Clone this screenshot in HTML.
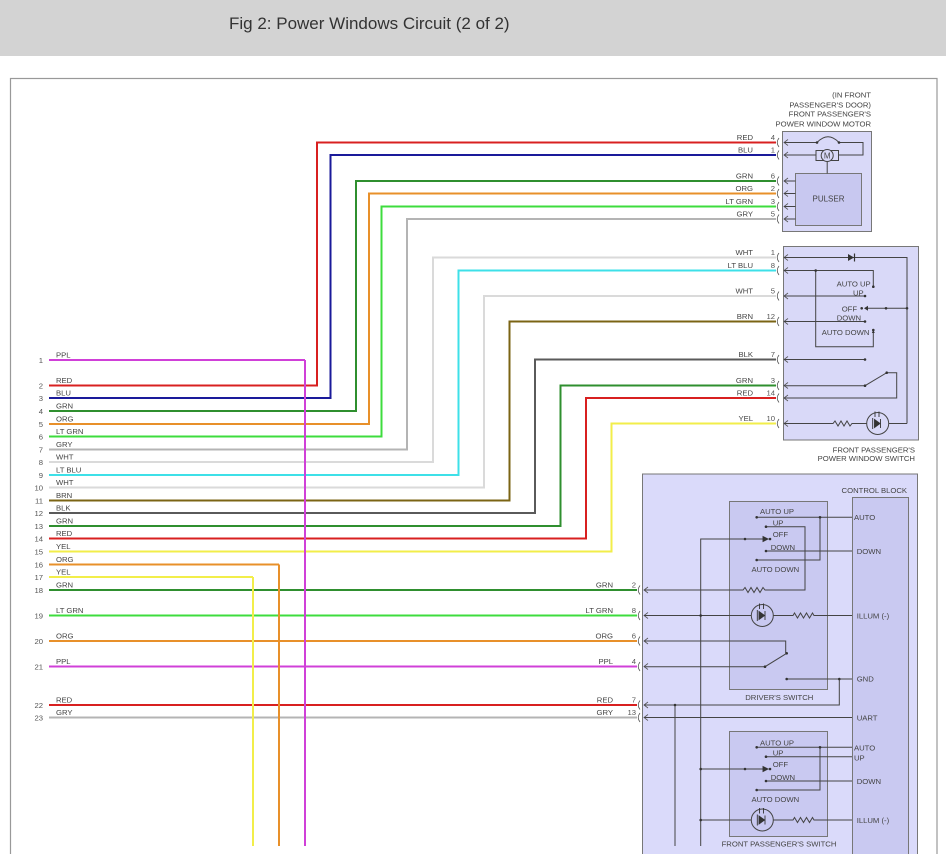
<!DOCTYPE html>
<html><head><meta charset="utf-8"><style>
html,body{margin:0;padding:0;background:#fff;}
body{width:946px;height:854px;overflow:hidden;position:relative;}
.hdr{position:absolute;left:0;top:0;width:946px;height:56px;background:#d3d3d3;}
.hdr span{position:absolute;left:229px;top:14px;font:17px "Liberation Sans",sans-serif;color:#333;white-space:nowrap;}
svg{position:absolute;left:0;top:0;}
text{font-family:"Liberation Sans",sans-serif;font-size:7.7px;fill:#444;}
.n{fill:#555;}
.w{fill:none;stroke-width:2;}
.k{fill:none;stroke:#444;stroke-width:1;}
.c{fill:none;stroke:#555;stroke-width:0.8;}
</style></head><body>
<div class="hdr"><span>Fig 2: Power Windows Circuit (2 of 2)</span></div>
<svg width="946" height="854" viewBox="0 0 946 854">
<rect x="10.5" y="78.5" width="926.5" height="800" fill="#fff" stroke="#999" stroke-width="1.2"/>

<!-- boxes -->
<rect x="782.5" y="131.5" width="89" height="100" fill="#d9d9f8" stroke="#777" stroke-width="1"/>
<rect x="795.5" y="173.5" width="66" height="52" fill="#c8c8f0" stroke="#777" stroke-width="1"/>
<rect x="783.5" y="246.5" width="135" height="193.5" fill="#d9d9f8" stroke="#777" stroke-width="1"/>
<rect x="642.5" y="474" width="275" height="400" fill="#dadafa" stroke="#777" stroke-width="1"/>
<rect x="852.5" y="497.5" width="56" height="380" fill="#c9c9f1" stroke="#777" stroke-width="1"/>
<rect x="729.5" y="501.5" width="98" height="188" fill="#c9c9f1" stroke="#777" stroke-width="1"/>
<rect x="729.5" y="731.5" width="98" height="105" fill="#c9c9f1" stroke="#777" stroke-width="1"/>

<!-- horizontal wires -->
<g class="w">
<path d="M49,360 H305" stroke="#d040d8"/>
<path d="M49,385.5 H317 V142.5 H776" stroke="#d82020"/>
<path d="M49,398 H330.5 V155 H776" stroke="#1a1a9a"/>
<path d="M49,411 H356 V181 H776" stroke="#2f8f2f"/>
<path d="M49,424 H369 V193.5 H776" stroke="#e8902a"/>
<path d="M49,436.5 H381.5 V206.5 H776" stroke="#3ddc3d"/>
<path d="M49,449.5 H407 V219 H776" stroke="#b4b4b4"/>
<path d="M49,462 H433 V257.5 H776" stroke="#dadada"/>
<path d="M49,475 H458.5 V270.5 H776" stroke="#3ee0e8"/>
<path d="M49,487.5 H484 V296 H776" stroke="#dadada"/>
<path d="M49,500.5 H509.5 V321.5 H776" stroke="#7b6414"/>
<path d="M49,513 H535 V359.5 H776" stroke="#5a5a5a"/>
<path d="M49,526 H560.5 V385.5 H776" stroke="#2f8f2f"/>
<path d="M49,538.5 H586 V398 H776" stroke="#d82020"/>
<path d="M49,551.5 H611.5 V423.5 H776" stroke="#f2ee4a"/>
<path d="M49,564.5 H279" stroke="#e8902a"/>
<path d="M49,577 H253" stroke="#f2ee4a"/>
<path d="M49,590 H637" stroke="#2f8f2f"/>
<path d="M49,615.5 H637" stroke="#3ddc3d"/>
<path d="M49,641 H637" stroke="#e8902a"/>
<path d="M49,666.5 H637" stroke="#d040d8"/>
<path d="M49,705 H637" stroke="#d82020"/>
<path d="M49,717.5 H637" stroke="#b4b4b4"/>
<!-- verticals on top -->
<path d="M279,564.5 V846" stroke="#e8902a"/>
<path d="M253,577 V846" stroke="#f2ee4a"/>
<path d="M305,360 V846" stroke="#d040d8"/>
</g>

<!-- left labels -->
<g>
<text x="43" y="363" text-anchor="end" class="n">1</text><text x="56" y="357.5">PPL</text>
<text x="43" y="388.5" text-anchor="end" class="n">2</text><text x="56" y="383">RED</text>
<text x="43" y="401" text-anchor="end" class="n">3</text><text x="56" y="395.5">BLU</text>
<text x="43" y="414" text-anchor="end" class="n">4</text><text x="56" y="408.5">GRN</text>
<text x="43" y="427" text-anchor="end" class="n">5</text><text x="56" y="421.5">ORG</text>
<text x="43" y="439.5" text-anchor="end" class="n">6</text><text x="56" y="434">LT GRN</text>
<text x="43" y="452.5" text-anchor="end" class="n">7</text><text x="56" y="447">GRY</text>
<text x="43" y="465" text-anchor="end" class="n">8</text><text x="56" y="459.5">WHT</text>
<text x="43" y="478" text-anchor="end" class="n">9</text><text x="56" y="472.5">LT BLU</text>
<text x="43" y="490.5" text-anchor="end" class="n">10</text><text x="56" y="485">WHT</text>
<text x="43" y="503.5" text-anchor="end" class="n">11</text><text x="56" y="498">BRN</text>
<text x="43" y="516" text-anchor="end" class="n">12</text><text x="56" y="510.5">BLK</text>
<text x="43" y="529" text-anchor="end" class="n">13</text><text x="56" y="523.5">GRN</text>
<text x="43" y="541.5" text-anchor="end" class="n">14</text><text x="56" y="536">RED</text>
<text x="43" y="554.5" text-anchor="end" class="n">15</text><text x="56" y="549">YEL</text>
<text x="43" y="567.5" text-anchor="end" class="n">16</text><text x="56" y="562">ORG</text>
<text x="43" y="580" text-anchor="end" class="n">17</text><text x="56" y="574.5">YEL</text>
<text x="43" y="593" text-anchor="end" class="n">18</text><text x="56" y="587.5">GRN</text>
<text x="43" y="618.5" text-anchor="end" class="n">19</text><text x="56" y="613">LT GRN</text>
<text x="43" y="644" text-anchor="end" class="n">20</text><text x="56" y="638.5">ORG</text>
<text x="43" y="669.5" text-anchor="end" class="n">21</text><text x="56" y="664">PPL</text>
<text x="43" y="708" text-anchor="end" class="n">22</text><text x="56" y="702.5">RED</text>
<text x="43" y="720.5" text-anchor="end" class="n">23</text><text x="56" y="715">GRY</text>
</g>

<!-- motor / switch connector labels -->
<g text-anchor="end">
<text x="753" y="140">RED</text><text x="775" y="140" class="n">4</text>
<text x="753" y="152.5">BLU</text><text x="775" y="152.5" class="n">1</text>
<text x="753" y="178.5">GRN</text><text x="775" y="178.5" class="n">6</text>
<text x="753" y="191">ORG</text><text x="775" y="191" class="n">2</text>
<text x="753" y="204">LT GRN</text><text x="775" y="204" class="n">3</text>
<text x="753" y="216.5">GRY</text><text x="775" y="216.5" class="n">5</text>
<text x="753" y="255">WHT</text><text x="775" y="255" class="n">1</text>
<text x="753" y="268">LT BLU</text><text x="775" y="268" class="n">8</text>
<text x="753" y="293.5">WHT</text><text x="775" y="293.5" class="n">5</text>
<text x="753" y="319">BRN</text><text x="775" y="319" class="n">12</text>
<text x="753" y="357">BLK</text><text x="775" y="357" class="n">7</text>
<text x="753" y="383">GRN</text><text x="775" y="383" class="n">3</text>
<text x="753" y="395.5">RED</text><text x="775" y="395.5" class="n">14</text>
<text x="753" y="421">YEL</text><text x="775" y="421" class="n">10</text>
<text x="613" y="587.5">GRN</text><text x="636" y="587.5" class="n">2</text>
<text x="613" y="613">LT GRN</text><text x="636" y="613" class="n">8</text>
<text x="613" y="638.5">ORG</text><text x="636" y="638.5" class="n">6</text>
<text x="613" y="664">PPL</text><text x="636" y="664" class="n">4</text>
<text x="613" y="702.5">RED</text><text x="636" y="702.5" class="n">7</text>
<text x="613" y="715">GRY</text><text x="636" y="715" class="n">13</text>
<text x="871" y="97.3">(IN FRONT</text>
<text x="871" y="107.3">PASSENGER'S DOOR)</text>
<text x="871" y="116.5">FRONT PASSENGER'S</text>
<text x="871" y="126.3">POWER WINDOW MOTOR</text>
<text x="915" y="452.5">FRONT PASSENGER'S</text>
<text x="915" y="461">POWER WINDOW SWITCH</text>
<text x="870.7" y="286.3">AUTO UP</text>
</g>

<!-- connector symbols -->
<g class="c">
<path d="M779,138 Q775.5,142.5 779,147 M788,139.5 L784,142.5 L788,145.5"/>
<path d="M779,150.5 Q775.5,155 779,159.5 M788,152 L784,155 L788,158"/>
<path d="M779,176.5 Q775.5,181 779,185.5 M788,178 L784,181 L788,184"/>
<path d="M779,189 Q775.5,193.5 779,198 M788,190.5 L784,193.5 L788,196.5"/>
<path d="M779,202 Q775.5,206.5 779,211 M788,203.5 L784,206.5 L788,209.5"/>
<path d="M779,214.5 Q775.5,219 779,223.5 M788,216 L784,219 L788,222"/>
<path d="M779,253 Q775.5,257.5 779,262 M788,254.5 L784,257.5 L788,260.5"/>
<path d="M779,266 Q775.5,270.5 779,275 M788,267.5 L784,270.5 L788,273.5"/>
<path d="M779,291.5 Q775.5,296 779,300.5 M788,293 L784,296 L788,299"/>
<path d="M779,317 Q775.5,321.5 779,326 M788,318.5 L784,321.5 L788,324.5"/>
<path d="M779,355 Q775.5,359.5 779,364 M788,356.5 L784,359.5 L788,362.5"/>
<path d="M779,381 Q775.5,385.5 779,390 M788,382.5 L784,385.5 L788,388.5"/>
<path d="M779,393.5 Q775.5,398 779,402.5 M788,395 L784,398 L788,401"/>
<path d="M779,419 Q775.5,423.5 779,428 M788,420.5 L784,423.5 L788,426.5"/>
<path d="M640,585.5 Q636.5,590 640,594.5 M648,587 L644,590 L648,593"/>
<path d="M640,611 Q636.5,615.5 640,620 M648,612.5 L644,615.5 L648,618.5"/>
<path d="M640,636.5 Q636.5,641 640,645.5 M648,638 L644,641 L648,644"/>
<path d="M640,662 Q636.5,666.5 640,671 M648,663.5 L644,666.5 L648,669.5"/>
<path d="M640,700.5 Q636.5,705 640,709.5 M648,702 L644,705 L648,708"/>
<path d="M640,713 Q636.5,717.5 640,722 M648,714.5 L644,717.5 L648,720.5"/>
</g>

<!-- motor internals -->
<g class="k">
<path d="M784,142.5 H817 M839,142.5 H863 V155 H838.5 M784,155 H816"/>
<path d="M817,142.5 Q828,131 839,142.5"/>
<rect x="816" y="150.5" width="22.5" height="10" fill="#d9d9f8"/>
<circle cx="827.2" cy="155.5" r="6" fill="#d9d9f8"/>
<path d="M827.2,161.5 V173.5"/>
<path d="M784,181 H795.5 M784,193.5 H795.5 M784,206.5 H795.5 M784,219 H795.5"/>
</g>
<circle cx="817" cy="142.5" r="1.3" fill="#333"/><circle cx="839" cy="142.5" r="1.3" fill="#333"/>
<text x="827.2" y="158.5" text-anchor="middle" style="font-size:8px">M</text>
<text x="828.5" y="201.5" text-anchor="middle" style="font-size:8px">PULSER</text>

<!-- switch internals -->
<g class="k">
<path d="M784,257.5 H907 V423.5"/>
<path d="M784,270.5 H873.3 V286.7"/>
<path d="M815.7,270.5 V346.7 H873.3 V330"/>
<path d="M784,296 H865"/>
<path d="M866,308.3 H907"/>
<path d="M784,321.5 H865"/>
<path d="M784,359.5 H865"/>
<path d="M784,385.7 H865 L886.7,372.7 H896.7 V398 H784"/>
<path d="M784,423.5 H833 l2,-2.5 l3,5 l3,-5 l3,5 l3,-5 l3,5 l2,-2.5 H866.7 M888.7,423.5 H907"/>
<circle cx="877.7" cy="423.5" r="11"/>
</g>
<path d="M848,254 L848,261 L854,257.5 Z" fill="#333"/><path d="M854.5,253.5 V261.5" stroke="#333" stroke-width="1.2"/>
<path d="M872.7,418 V429 M874.5,419.5 L880,423.5 L874.5,427.5 Z M880.5,419 V428 M875,417 V411.5 M879,417 V411.5" stroke="#333" stroke-width="0.9" fill="#333"/>
<path d="M868,305.8 L864,308.3 L868,310.8 Z M873.3,330 l-1.5,3 h3 Z" fill="#333"/>
<g fill="#333">
<circle cx="873.3" cy="286.7" r="1.3"/><circle cx="815.7" cy="270.5" r="1.3"/><circle cx="873.3" cy="330" r="1.3"/>
<circle cx="865" cy="296" r="1.3"/><circle cx="861.7" cy="308.3" r="1.3"/><circle cx="886" cy="308.3" r="1.3"/><circle cx="907" cy="308.3" r="1.3"/>
<circle cx="865" cy="321.5" r="1.3"/><circle cx="865" cy="359.5" r="1.3"/><circle cx="865" cy="385.7" r="1.3"/><circle cx="886.7" cy="372.7" r="1.3"/>
</g>
<text x="853" y="295.3">UP</text>
<text x="841.7" y="311.3">OFF</text>
<text x="836.7" y="320.3">DOWN</text>
<text x="821.7" y="335">AUTO DOWN</text>

<!-- control block internals -->
<g class="k">
<path d="M644,590 H743 l2,-2.5 l3,5 l3,-5 l3,5 l3,-5 l3,5 l3,-5 l2,2.5 H805 V526.7 H766"/>
<path d="M756.7,517.3 H852 M820,517.3 V560 H756.7"/>
<path d="M700.7,846 V539 H765"/>
<path d="M766,551 H852"/>
<path d="M644,615.5 H751 M773.5,615.5 H793 l1.5,-2.5 l3,5 l3,-5 l3,5 l3,-5 l3,5 l3,-5 l1.5,2.5 H852"/>
<circle cx="762.3" cy="615.5" r="11"/>
<path d="M644,641 H785.7 V653.3"/>
<path d="M644,666.7 H765 L786.7,653.3"/>
<path d="M786.7,679 H852 M839.3,679 V705 H644"/>
<path d="M675,705 V846"/>
<path d="M644,717.5 H852"/>
<path d="M756.7,747.3 H852 M820,747.3 V790 H756.7"/>
<path d="M766,756.7 H852"/>
<path d="M700.7,769 H765"/>
<path d="M766,781 H852"/>
<path d="M700.7,820 H751 M773.5,820 H793 l1.5,-2.5 l3,5 l3,-5 l3,5 l3,-5 l3,5 l3,-5 l1.5,2.5 H852"/>
<circle cx="762.3" cy="820" r="11"/>
</g>
<g fill="#333" stroke="#333" stroke-width="0.9">
<path d="M757.3,610 V621 M759,611.5 L764.5,615.5 L759,619.5 Z M765,611 V620 M759.5,609 V603.5 M763.5,609 V603.5"/>
<path d="M757.3,814.5 V825.5 M759,816 L764.5,820 L759,824 Z M765,815.5 V824.5 M759.5,813.5 V808 M763.5,813.5 V808"/>
<path d="M763,536.5 L768,539 L763,541.5 Z"/>
<path d="M763,766.5 L768,769 L763,771.5 Z"/>
</g>
<g fill="#333">
<circle cx="756.7" cy="517.3" r="1.3"/><circle cx="820" cy="517.3" r="1.3"/><circle cx="766" cy="526.7" r="1.3"/>
<circle cx="745" cy="539" r="1.3"/><circle cx="770" cy="539" r="1.3"/><circle cx="766" cy="551" r="1.3"/><circle cx="756.7" cy="560" r="1.3"/>
<circle cx="700.7" cy="615.5" r="1.3"/><circle cx="786.7" cy="653.3" r="1.3"/><circle cx="765" cy="666.7" r="1.3"/>
<circle cx="786.7" cy="679" r="1.3"/><circle cx="839.3" cy="679" r="1.3"/><circle cx="675" cy="705" r="1.3"/>
<circle cx="756.7" cy="747.3" r="1.3"/><circle cx="820" cy="747.3" r="1.3"/><circle cx="766" cy="756.7" r="1.3"/>
<circle cx="700.7" cy="769" r="1.3"/><circle cx="745" cy="769" r="1.3"/><circle cx="770" cy="769" r="1.3"/>
<circle cx="766" cy="781" r="1.3"/><circle cx="756.7" cy="790" r="1.3"/><circle cx="700.7" cy="820" r="1.3"/>
</g>
<g>
<text x="874.3" y="493" text-anchor="middle">CONTROL BLOCK</text>
<text x="777" y="514" text-anchor="middle">AUTO UP</text>
<text x="772.7" y="525.5">UP</text>
<text x="772.7" y="537">OFF</text>
<text x="770.7" y="550">DOWN</text>
<text x="775.3" y="572" text-anchor="middle">AUTO DOWN</text>
<text x="779.3" y="700" text-anchor="middle">DRIVER'S SWITCH</text>
<text x="854" y="520">AUTO</text>
<text x="856.7" y="554">DOWN</text>
<text x="856.7" y="618.5">ILLUM (-)</text>
<text x="856.7" y="681.5">GND</text>
<text x="856.7" y="720.5">UART</text>
<text x="777" y="745.3" text-anchor="middle">AUTO UP</text>
<text x="772.7" y="755.5">UP</text>
<text x="772.7" y="767">OFF</text>
<text x="770.7" y="780">DOWN</text>
<text x="775.3" y="802" text-anchor="middle">AUTO DOWN</text>
<text x="779" y="846.3" text-anchor="middle">FRONT PASSENGER'S SWITCH</text>
<text x="854" y="750.3">AUTO</text>
<text x="854" y="760.7">UP</text>
<text x="856.7" y="784">DOWN</text>
<text x="856.7" y="823">ILLUM (-)</text>
</g>
</svg>
</body></html>
